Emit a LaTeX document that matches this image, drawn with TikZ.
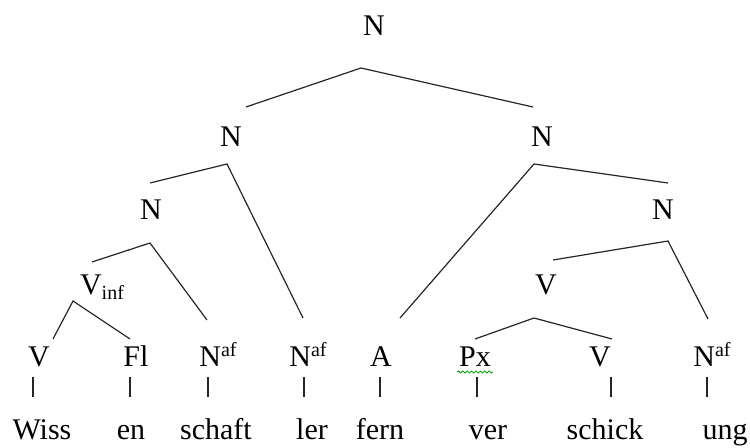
\documentclass[tikz,border=0pt]{standalone}
\usepackage{fontspec}
\setmainfont{Liberation Serif}
\usetikzlibrary{decorations.pathmorphing}
\newcommand\supaf{\raisebox{5pt}{\fontsize{10pt}{10pt}\selectfont af}}
\newcommand\subinf{\raisebox{-2.2pt}{\fontsize{10pt}{10pt}\selectfont inf}}
\begin{document}
\begin{tikzpicture}[x=0.5pt,y=-0.5pt,
  lab/.style={inner sep=0pt, anchor=base, font=\fontsize{15pt}{18pt}\selectfont},
  edge/.style={line width=0.6pt, draw=black!85},
  tickline/.style={line width=0.6pt, draw=black!85},
  squiggle/.style={decorate, decoration={snake, amplitude=0.5pt, segment length=2.2pt}, draw=green!60!black, line width=0.4pt}]
\useasboundingbox (0,0) rectangle (750,448);
% category labels
\node[lab] (n0) at (374,36) {N};
\node[lab] (n1) at (231,147) {N};
\node[lab] (n2) at (542,147) {N};
\node[lab] (n3) at (151,220) {N};
\node[lab] (n4) at (663,220) {N};
\node[lab] (vinf) at (102,295) {V\subinf};
\node[lab] (vmid) at (546,295) {V};
\node[lab] (b1) at (39,367) {V};
\node[lab] (b2) at (136,367) {Fl};
\node[lab] (b3) at (218,367) {N\supaf};
\node[lab] (b4) at (308,367) {N\supaf};
\node[lab] (b5) at (381,367) {A};
\node[lab] (b6) at (475,367) {Px};
\node[lab] (b7) at (600,367) {V};
\node[lab] (b8) at (712,367) {N\supaf};
% words
\node[lab] (w1) at (42,440) {Wiss};
\node[lab] (w2) at (131,440) {en};
\node[lab] (w3) at (216,440) {schaft};
\node[lab] (w4) at (312,440) {ler};
\node[lab] (w5) at (380,440) {fern};
\node[lab] (w6) at (488,440) {ver};
\node[lab] (w7) at (605,440) {schick};
\node[lab] (w8) at (725,440) {ung};
% branch points
\coordinate (p0) at (361,68);  \coordinate (p0l) at (246,107); \coordinate (p0r) at (533,107);
\coordinate (p1) at (227,164); \coordinate (p1l) at (150,183); \coordinate (p1r) at (303,318);
\coordinate (p2) at (534,164); \coordinate (p2l) at (400,318); \coordinate (p2r) at (668,183);
\coordinate (p3) at (150,243); \coordinate (p3l) at (92,262);  \coordinate (p3r) at (207,320);
\coordinate (p4) at (668,241); \coordinate (p4l) at (553,260); \coordinate (p4r) at (708,319);
\coordinate (p5) at (73,301);  \coordinate (p5l) at (53,339);  \coordinate (p5r) at (130,339);
\coordinate (p6) at (534,318); \coordinate (p6l) at (475,339); \coordinate (p6r) at (612,339);
\draw[edge] (p0l) -- (p0) -- (p0r);
\draw[edge] (p1l) -- (p1) -- (p1r);
\draw[edge] (p2l) -- (p2) -- (p2r);
\draw[edge] (p3l) -- (p3) -- (p3r);
\draw[edge] (p4l) -- (p4) -- (p4r);
\draw[edge] (p5l) -- (p5) -- (p5r);
\draw[edge] (p6l) -- (p6) -- (p6r);
% ticks
\foreach \i/\x in {1/33,2/130,3/208,4/304,5/380,6/477,7/611,8/707}{
  \coordinate (t\i) at (\x,377);
  \draw[tickline] (t\i) -- ++(0,20);
}
% spell-check squiggle under Px
\coordinate (sq1) at (457,372); \coordinate (sq2) at (493,372);
\draw[squiggle] (sq1) -- (sq2);
\end{tikzpicture}
\end{document}
